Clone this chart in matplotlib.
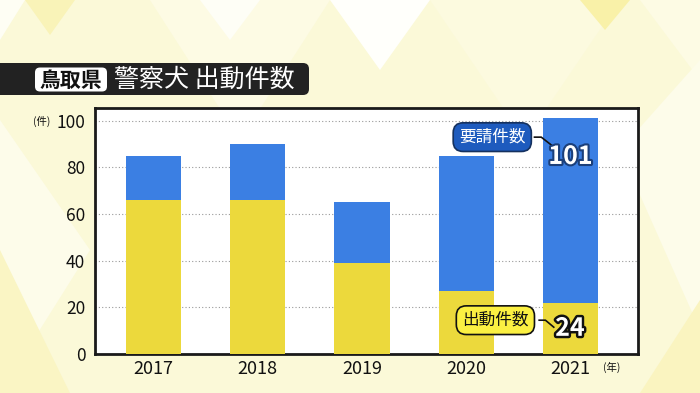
import matplotlib
matplotlib.use("Agg")
import matplotlib.pyplot as plt
from matplotlib.patches import FancyBboxPatch, Polygon
import matplotlib.patheffects as pe

plt.rcParams['font.family'] = ['Noto Sans CJK JP', 'DejaVu Sans']

# ---- data ----
years = ["2017", "2018", "2019", "2020", "2021"]
dispatch = [66, 66, 39, 27, 22]          # 出動件数 (yellow)
requests = [85, 90, 65, 85, 101]         # 要請件数 (total, blue)
yticks = [0, 20, 40, 60, 80, 100]
title_pref = "鳥取県"
title_main = "警察犬 出動件数"
label_req = "要請件数"
label_dis = "出動件数"
value_req = "101"
value_dis = "24"

W, H = 700, 393
fig = plt.figure(figsize=(W / 100, H / 100), dpi=100)

# ---- background ----
bg = fig.add_axes([0, 0, 1, 1], zorder=0)
bg.set_xlim(0, W)
bg.set_ylim(H, 0)
bg.axis("off")
bg.add_patch(Polygon([(0, 0), (W, 0), (W, H), (0, H)], color="#FBF9D8", zorder=0))
tris = [
    ([(0, 0), (25, 0), (0, 40)], "#FEFEF4"),
    ([(25, 0), (75, 0), (50, 35)], "#F9F3B8"),
    ([(150, 0), (330, 0), (240, 140)], "#FDFBE4"),
    ([(200, 0), (260, 0), (230, 40)], "#FEFEF6"),
    ([(330, 0), (430, 0), (380, 70)], "#FFFFFB"),
    ([(430, 0), (620, 0), (525, 140)], "#FCFADF"),
    ([(580, 0), (630, 0), (605, 30)], "#F9F1A8"),
    ([(640, 0), (700, 0), (700, 80)], "#FDFBE4"),
    ([(0, 120), (90, 250), (0, 393)], "#FDFCEA"),
    ([(0, 250), (70, 393), (0, 393)], "#FAF5C4"),
    ([(620, 150), (700, 60), (700, 330)], "#FDFCEA"),
    ([(640, 393), (700, 300), (700, 393)], "#FAF4C0"),
]
for pts, c in tris:
    bg.add_patch(Polygon(pts, color=c, zorder=1, lw=0))

# title bar
bg.add_patch(FancyBboxPatch((-20, 63), 329, 32,
                            boxstyle="round,pad=0,rounding_size=6",
                            fc="#222222", ec="none", zorder=3))
bg.add_patch(FancyBboxPatch((35, 67.5), 72, 24,
                            boxstyle="round,pad=0,rounding_size=5",
                            fc="white", ec="none", zorder=4))
bg.text(71, 80, title_pref, color="#111111", fontsize=15, fontweight="bold",
        ha="center", va="center", zorder=5)
bg.text(114, 80, title_main, color="white", fontsize=18, ha="left",
        va="center", zorder=5)

# ---- chart ----
ax = fig.add_axes([95 / W, 1 - 354 / H, (638 - 95) / W, (354 - 108) / H], zorder=2)
ax.set_facecolor("white")
x = list(range(len(years)))
blue_part = [r - d for r, d in zip(requests, dispatch)]
ax.bar(x, dispatch, width=0.53, color="#ECD93C", zorder=3)
ax.bar(x, blue_part, bottom=dispatch, width=0.53, color="#3B7FE3", zorder=3)
ax.set_xlim(-0.561, 4.648)
ax.set_ylim(0, 105.5)
ax.set_yticks(yticks)
ax.set_xticks(x)
ax.set_xticklabels(years, fontsize=13, color="#111111")
ax.tick_params(axis="y", labelsize=12.5, length=0, pad=7, labelcolor="#111111")
ax.tick_params(axis="x", length=0, pad=4)
ax.yaxis.grid(True, linestyle=(0, (1, 2)), color="#999999", lw=0.8, zorder=1)
for s in ax.spines.values():
    s.set_color("#1a1a1a")
    s.set_linewidth(2)

fig.text(33 / W, 1 - 121 / H, "(件)", fontsize=7.5, ha="left", va="center", color="#111111")
fig.text(603 / W, 1 - 367 / H, "(年)", fontsize=7.5, ha="left", va="center", color="#111111")

# annotations
ax.text(3.25, 93, label_req, fontsize=12, color="white", ha="center", va="center",
        zorder=6,
        bbox=dict(boxstyle="round,pad=0.35,rounding_size=0.6", fc="#1E5BBE",
                  ec="#15315F", lw=1.2))
ax.plot([3.655, 3.72, 3.82], [93, 93, 89.5], color="#111111", lw=1.2, zorder=6)
ax.text(4.0, 84.5, value_req, fontsize=18, fontweight="bold", color="white",
        ha="center", va="center", zorder=7,
        path_effects=[pe.withStroke(linewidth=3, foreground="#1B3F7A")])

ax.text(3.28, 14.5, label_dis, fontsize=12, color="#111111", ha="center",
        va="center", zorder=6,
        bbox=dict(boxstyle="round,pad=0.35,rounding_size=0.6", fc="#FBF042",
                  ec="#111111", lw=1.2))
ax.plot([3.70, 3.76, 3.84], [14.5, 14.5, 11.5], color="#111111", lw=1.2, zorder=6)
ax.text(3.995, 10.8, value_dis, fontsize=18, fontweight="bold", color="white",
        ha="center", va="center", zorder=7,
        path_effects=[pe.withStroke(linewidth=3.5, foreground="#111111")])

fig.savefig("out.png", dpi=100)
